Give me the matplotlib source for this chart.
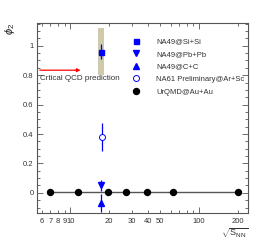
import matplotlib
matplotlib.use("Agg")
import matplotlib.pyplot as plt
from matplotlib.ticker import FixedLocator, NullFormatter, MultipleLocator
from matplotlib.lines import Line2D

plt.rcParams["font.family"] = ["Liberation Sans", "DejaVu Sans"]
plt.rcParams["mathtext.fontset"] = "custom"
plt.rcParams["mathtext.rm"] = "Liberation Sans"
plt.rcParams["mathtext.it"] = "Liberation Sans:italic"

# UrQMD Au+Au
urqmd_energy = [7.0, 11.5, 19.6, 27.0, 39.0, 62.4, 200.0]
urqmd_phi2 = [0.005, 0.005, 0.005, 0.005, 0.005, 0.005, 0.005]

# NA49 / NA61 at sqrt(s_NN) = 17.3
na49_energy = 17.3
si_phi2, si_err = 0.96, 0.05
si_sys_low, si_sys_high = 0.80, 1.12
pbpb_phi2, pbpb_err = 0.05, 0.04
cc_phi2, cc_err = -0.07, 0.06
arsc_energy = 17.5
arsc_phi2, arsc_err = 0.38, 0.095

qcd_prediction = 0.834
qcd_arrow_end = 12.6

x_major = [10, 100]
x_labeled = [6, 7, 8, 9, 10, 20, 30, 40, 50, 100, 200]
x_minor = [6, 7, 8, 9, 20, 30, 40, 50, 60, 70, 80, 90, 200]

BLUE = "#0000ff"

fig = plt.figure(figsize=(2.76, 2.42), dpi=100)
ax = fig.add_axes([0.134, 0.12, 0.765, 0.785])

ax.set_xscale("log")
ax.set_xlim(5.5, 240)
ax.set_ylim(-0.137, 1.155)

# systematic band for Si+Si
ax.fill_between([16.3, 18.2], si_sys_low, si_sys_high, color="#cfc9ae", lw=0, zorder=1)

# UrQMD line + points
ax.plot(urqmd_energy, urqmd_phi2, color="#555555", lw=1.0, zorder=2)
ax.plot(urqmd_energy, urqmd_phi2, "o", color="black", ms=4.3, zorder=4)

# NA49 / NA61
ax.errorbar(na49_energy, si_phi2, yerr=si_err, fmt="s", color=BLUE, ms=3.6, lw=0.9, zorder=5)
ax.errorbar(na49_energy, pbpb_phi2, yerr=pbpb_err, fmt="v", color=BLUE, ms=3.8, lw=0.9, zorder=5)
ax.errorbar(na49_energy, cc_phi2, yerr=cc_err, fmt="^", color=BLUE, ms=3.8, lw=0.9, zorder=5)
ax.errorbar(arsc_energy, arsc_phi2, yerr=arsc_err, fmt="o", color=BLUE, mfc="white",
            mec=BLUE, ms=4.3, lw=0.9, mew=0.7, zorder=5)

# critical QCD prediction arrow
ax.annotate("", xy=(qcd_arrow_end, qcd_prediction), xytext=(5.5, qcd_prediction),
            arrowprops=dict(arrowstyle="-|>", color="red", lw=0.9, mutation_scale=5))
ax.text(5.85, 0.775, "Crtical QCD prediction", fontsize=5.8, color="#333333", va="center")

# ticks, ROOT style
ax.xaxis.set_major_locator(FixedLocator(x_major))
ax.xaxis.set_minor_locator(FixedLocator(x_minor))
ax.xaxis.set_major_formatter(NullFormatter())
ax.xaxis.set_minor_formatter(NullFormatter())
for v in x_labeled:
    ax.text(v, -0.025, str(v), transform=ax.get_xaxis_transform(), fontsize=5.5,
            ha="center", va="top", color="#333333")
ax.yaxis.set_major_locator(FixedLocator([0, 0.2, 0.4, 0.6, 0.8, 1.0]))
ax.yaxis.set_minor_locator(MultipleLocator(0.05))
ax.set_yticklabels(["0", "0.2", "0.4", "0.6", "0.8", "1"])
ax.tick_params(which="both", direction="in", top=True, right=True, colors="#555555",
               labelcolor="#333333", labelsize=5.5, width=0.6)
ax.tick_params(which="major", length=4, pad=2.5)
ax.tick_params(which="minor", length=2)
for s in ax.spines.values():
    s.set_color("#555555")
    s.set_linewidth(0.8)

fig.text(0.035, 0.905, r"$\phi_2$", rotation=90, fontsize=8, ha="center", va="top", color="#222222")
fig.text(0.899, 0.008, r"$\sqrt{\mathrm{S}_{\mathrm{NN}}}$", fontsize=6.5, ha="right", va="bottom",
         color="#333333")

handles = [
    Line2D([], [], ls="", marker="s", color=BLUE, ms=3.6),
    Line2D([], [], ls="", marker="v", color=BLUE, ms=3.8),
    Line2D([], [], ls="", marker="^", color=BLUE, ms=3.8),
    Line2D([], [], ls="", marker="o", mfc="white", mec=BLUE, ms=4.3, mew=0.7),
    Line2D([], [], ls="", marker="o", color="black", ms=4.3),
]
labels = ["NA49@Si+Si", "NA49@Pb+Pb", "NA49@C+C", "NA61 Preliminary@Ar+Sc", "UrQMD@Au+Au"]
leg = ax.legend(handles, labels, loc="upper left", bbox_to_anchor=(0.45, 0.92), frameon=False,
                fontsize=5.5, handlelength=1.0, handletextpad=2.2, labelspacing=0.68,
                borderpad=0, borderaxespad=0)
for t in leg.get_texts():
    t.set_color("#333333")

fig.savefig("out.png", dpi=100)
